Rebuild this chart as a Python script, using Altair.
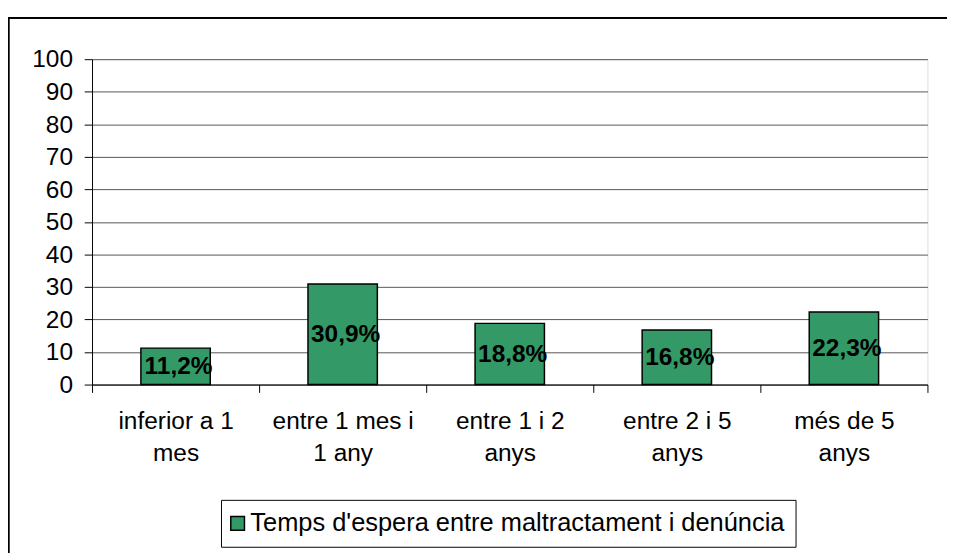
import altair as alt
import pandas as pd

categories = ["inferior a 1\nmes", "entre 1 mes i\n1 any", "entre 1 i 2\nanys", "entre 2 i 5\nanys", "més de 5\nanys"]
values = [11.2, 30.9, 18.8, 16.8, 22.3]
labels = ["11,2%", "30,9%", "18,8%", "16,8%", "22,3%"]
series = "Temps d'espera entre maltractament i denúncia"
y_ticks = [0, 10, 20, 30, 40, 50, 60, 70, 80, 90, 100]

df = pd.DataFrame({
    "cat": categories,
    "val": values,
    "half": [v / 2 for v in values],
    "lab": labels,
    "series": [series] * len(categories),
})

FONT = "Liberation Sans"
W, H = 855, 333

x_axis = alt.Axis(labelExpr="split(datum.label, '\\n')", labelAngle=0,
                  tickBand="extent", labelFontSize=25, labelFont=FONT,
                  labelColor="#000", labelLineHeight=33, labelPadding=17,
                  tickSize=8, tickColor="#000", domainColor="#000",
                  labelBaseline="top", grid=False, labelOverlap=False)
y_axis = alt.Axis(values=y_ticks, labelFontSize=25, labelFont=FONT,
                  labelColor="#000", tickSize=8, tickColor="#000",
                  domainColor="#000", gridColor="#555", labelPadding=12,
                  labelOverlap=False)
x_scale = alt.Scale(paddingInner=0, paddingOuter=0)
y_scale = alt.Scale(domain=[0, 100], nice=False)

bars = alt.Chart(df).mark_bar(size=71, stroke="#000", strokeWidth=1.5).encode(
    x=alt.X("cat:N", sort=categories, title=None, scale=x_scale, axis=x_axis),
    y=alt.Y("val:Q", title=None, scale=y_scale, axis=y_axis),
    color=alt.Color("series:N", scale=alt.Scale(range=["#339966"]),
                    legend=alt.Legend(title=None, orient="none", legendX=132, legendY=451,
                                      strokeColor="#000", padding=11, symbolType="square",
                                      symbolSize=196, symbolStrokeColor="#000",
                                      symbolStrokeWidth=1.5, labelFontSize=26, labelFont=FONT,
                                      labelColor="#000", labelOffset=0, symbolOffset=-7,
                                      labelLimit=0)),
)

text = alt.Chart(df).mark_text(fontSize=25, fontWeight="bold", font=FONT, color="#000",
                               dx=3, baseline="middle").encode(
    x=alt.X("cat:N", sort=categories, title=None, scale=x_scale, axis=x_axis),
    y=alt.Y("half:Q", title=None, scale=y_scale, axis=y_axis),
    text="lab:N",
)

frame_left = alt.Chart(df).mark_rect(color="#000", strokeWidth=0, clip=False).encode(
    x=alt.value(-86.25), x2=alt.value(-84.75), y=alt.value(-43.25), y2=alt.value(H + 200)
)
frame_top = alt.Chart(df).mark_rect(color="#000", strokeWidth=0, clip=False).encode(
    x=alt.value(-86.25), x2=alt.value(W + 30), y=alt.value(-43.25), y2=alt.value(-41.75)
)

chart = alt.layer(frame_left, frame_top, bars, text).properties(
    width=W, height=H,
    autosize=alt.AutoSizeParams(type="none"),
    padding={"left": 86, "top": 46, "right": 20, "bottom": 166},
).configure_view(stroke="#888", strokeWidth=1.5).configure(background="white")

chart.save("out.html", embed_options={"renderer": "svg", "actions": False})
